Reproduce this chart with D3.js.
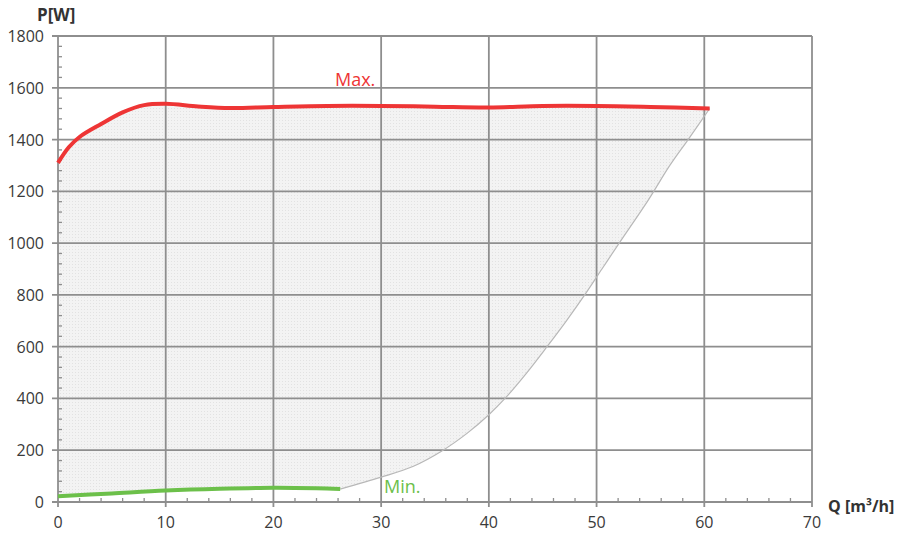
<!DOCTYPE html>
<html><head><meta charset="utf-8">
<script src="https://cdn.jsdelivr.net/npm/d3@7"></script>
<style>body{margin:0;background:#fff}svg{display:block}text{font-family:"Open Sans",sans-serif}</style>
</head><body><svg id="c" width="903" height="537"></svg>
<script>
const maxQ = [0,1,2,4,6,8,10,13,16,20,25,30,35,40,45,50,55,60.5];
const maxP = [1310,1370,1410,1460,1505,1533,1538,1528,1522,1526,1530,1530,1527,1524,1530,1530,1526,1520];
const minQ = [0,5,10,15,20,24,26.2];
const minP = [22,33,44,51,55,53,50];
const limQ = [26.2,30,33,35.6,38,40,41.5,43.5,45.4,47.2,48.9,50.5,52.1,54.8,56.8,58.5,60.5];
const limP = [50,96,138,196,266,337,400,498,600,700,800,900,1000,1166,1300,1400,1520];
const xTicks = [0,10,20,30,40,50,60,70];
const yTicks = [0,200,400,600,800,1000,1200,1400,1600,1800];

const svg = d3.select("#c");
const x = d3.scaleLinear().domain([0,70]).range([58,812]);
const y = d3.scaleLinear().domain([0,1800]).range([502,36]);
const gridCol = "#8e8e8e";

const zip = (a,b) => a.map((v,i)=>[v,b[i]]);
const maxPts = zip(maxQ,maxP), minPts = zip(minQ,minP), limPts = zip(limQ,limP);
const line = d3.line().x(d=>x(d[0])).y(d=>y(d[1])).curve(d3.curveCatmullRom.alpha(0.5));

// area fill
const p1 = line(maxPts);
const p2 = line(limPts.slice().reverse()).replace(/^M/,"L");
const p3 = line(minPts.slice().reverse()).replace(/^M/,"L");
const defs = svg.append("defs");
const pat = defs.append("pattern").attr("id","dots").attr("width",3).attr("height",3).attr("patternUnits","userSpaceOnUse");
pat.append("rect").attr("width",3).attr("height",3).attr("fill","#f3f3f3");
pat.append("rect").attr("width",1).attr("height",1).attr("fill","#e2e2e2");
svg.append("path").attr("d",p1+p2+p3+"Z").attr("fill","url(#dots)");

// grid
const g = svg.append("g");
yTicks.forEach(t=>{
  if(t>0) g.append("line").attr("x1",52).attr("x2",812).attr("y1",y(t)).attr("y2",y(t)).attr("stroke",gridCol).attr("stroke-width",1.8);
});
xTicks.forEach(t=>{
  if(t>0) g.append("line").attr("x1",x(t)).attr("x2",x(t)).attr("y1",36).attr("y2",507).attr("stroke",gridCol).attr("stroke-width",1.8);
});
// minor ticks
d3.range(0,1800,40).forEach(v=>{ if(v%200) g.append("line").attr("x1",58).attr("x2",62).attr("y1",y(v)).attr("y2",y(v)).attr("stroke",gridCol).attr("stroke-width",1.3);});
d3.range(0,70,2).forEach(v=>{ if(v%10) g.append("line").attr("x1",x(v)).attr("x2",x(v)).attr("y1",502).attr("y2",498).attr("stroke",gridCol).attr("stroke-width",1.3);});
// axes
g.append("line").attr("x1",58).attr("x2",58).attr("y1",36).attr("y2",507).attr("stroke",gridCol).attr("stroke-width",1.8);
g.append("line").attr("x1",52).attr("x2",812).attr("y1",502).attr("y2",502).attr("stroke",gridCol).attr("stroke-width",1.8);

// limit line
svg.append("path").attr("d",line(limPts)).attr("fill","none").attr("stroke","#b8b8b8").attr("stroke-width",1.2);
// max & min
svg.append("path").attr("d",line(maxPts)).attr("fill","none").attr("stroke","#ee3535").attr("stroke-width",4);
svg.append("path").attr("d",line(minPts)).attr("fill","none").attr("stroke","#6cc04a").attr("stroke-width",4);

// labels
yTicks.forEach(t=>svg.append("text").attr("x",44).attr("y",y(t)+6).attr("text-anchor","end").attr("font-size",16).attr("fill","#3a3a3a").text(t));
xTicks.forEach(t=>svg.append("text").attr("x",x(t)).attr("y",528).attr("text-anchor","middle").attr("font-size",16).attr("fill","#3a3a3a").text(t));
svg.append("text").attr("x",37).attr("y",21).attr("font-size",17).attr("font-weight","bold").attr("fill","#333").text("P[W]");
svg.append("text").attr("x",828).attr("y",512).attr("font-size",16).attr("font-weight","bold").attr("fill","#333").text("Q [m³/h]");
svg.append("text").attr("x",335).attr("y",86).attr("font-size",18).attr("fill","#ee3535").text("Max.");
svg.append("text").attr("x",384).attr("y",493).attr("font-size",18).attr("fill","#6cc04a").text("Min.");
</script></body></html>
